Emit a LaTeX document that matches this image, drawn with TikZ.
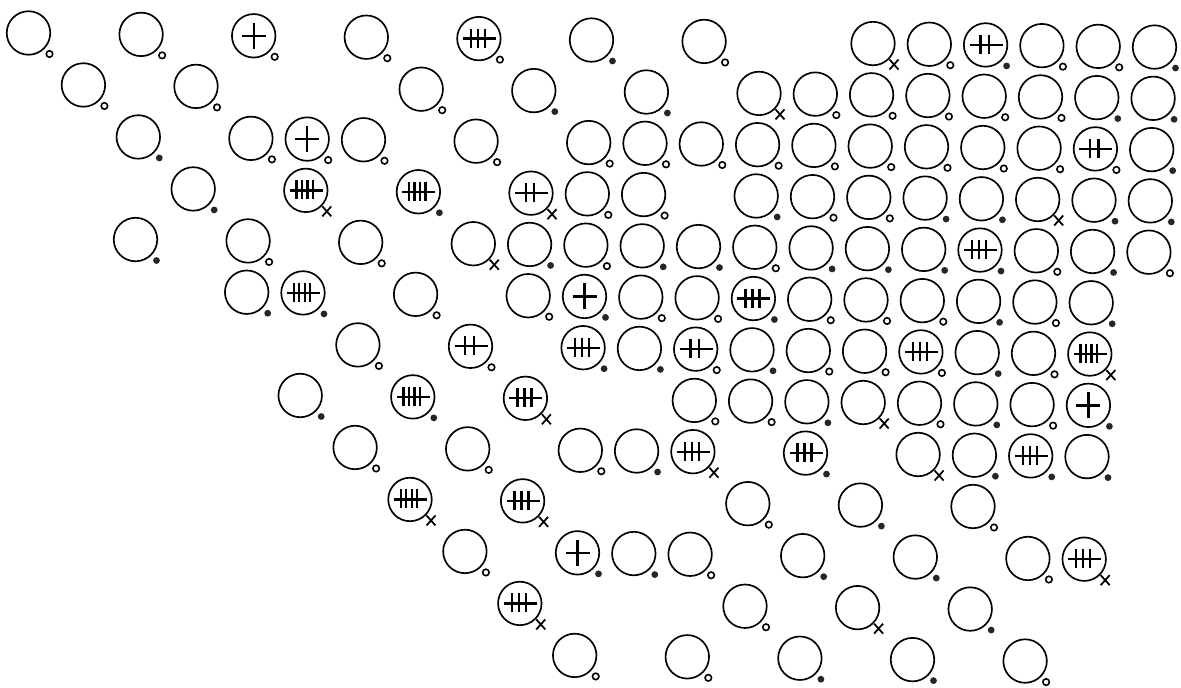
\documentclass[tikz,border=0pt]{standalone}
\tikzset{
  cell/.style={circle, draw=black, line width=0.95pt, minimum size=0.87cm, inner sep=0pt},
  ringm/.style={draw=black, line width=0.9pt},
  dotm/.style={fill=black!85},
  xm/.style={draw=black, line width=1pt},
  tallym/.style={draw=black, line width=1.35pt},
}
\begin{document}
\begin{tikzpicture}[x=0.02cm,y=-0.02cm]
\useasboundingbox (0,0) rectangle (1181,687);
\foreach \rw/\cl/\mk/\tl in {
 1/0/0/0, 1/2/0/0, 1/4/0/1, 1/6/0/0, 1/8/0/3, 1/10/1/0, 1/12/0/0, 1/15/2/0, 1/16/0/0, 1/17/1/2, 1/18/0/0, 1/19/0/0, 1/20/1/0,
 2/1/0/0, 2/3/0/0, 2/7/0/0, 2/9/1/0, 2/11/1/0, 2/13/2/0, 2/14/0/0, 2/15/0/0, 2/16/0/0, 2/17/0/0, 2/18/0/0, 2/19/1/0, 2/20/1/0,
 3/2/1/0, 3/4/0/0, 3/5/0/1, 3/6/0/0, 3/8/0/0, 3/10/0/0, 3/11/0/0, 3/12/0/0, 3/13/0/0, 3/14/0/0, 3/15/0/0, 3/16/0/0, 3/17/0/0, 3/18/0/0, 3/19/0/2, 3/20/1/0,
 4/3/1/0, 4/5/2/4, 4/7/1/4, 4/9/2/2, 4/10/0/0, 4/11/0/0, 4/13/1/0, 4/14/0/0, 4/15/0/0, 4/16/1/0, 4/17/1/0, 4/18/2/0, 4/19/1/0, 4/20/1/0,
 5/2/1/0, 5/4/0/0, 5/6/0/0, 5/8/2/0, 5/9/1/0, 5/10/0/0, 5/11/1/0, 5/12/1/0, 5/13/0/0, 5/14/1/0, 5/15/1/0, 5/16/1/0, 5/17/1/3, 5/18/0/0, 5/19/1/0, 5/20/0/0,
 6/4/1/0, 6/5/1/4, 6/7/0/0, 6/9/0/0, 6/10/1/1, 6/11/0/0, 6/12/0/0, 6/13/1/3, 6/14/0/0, 6/15/0/0, 6/16/0/0, 6/17/1/0, 6/18/0/0, 6/19/1/0,
 7/6/0/0, 7/8/0/2, 7/10/1/3, 7/11/1/0, 7/12/0/2, 7/13/1/0, 7/14/0/0, 7/15/0/0, 7/16/0/3, 7/17/1/0, 7/18/0/0, 7/19/2/4,
 8/5/1/0, 8/7/1/4, 8/9/2/3, 8/12/0/0, 8/13/0/0, 8/14/1/0, 8/15/2/0, 8/16/0/0, 8/17/1/0, 8/18/0/0, 8/19/1/1,
 9/6/0/0, 9/8/0/0, 9/10/0/0, 9/11/1/0, 9/12/2/3, 9/14/1/3, 9/16/2/0, 9/17/1/0, 9/18/1/3, 9/19/1/0,
 10/7/2/4, 10/9/2/3, 10/13/0/0, 10/15/1/0, 10/17/0/0,
 11/8/0/0, 11/10/1/1, 11/11/1/0, 11/12/0/0, 11/14/1/0, 11/16/1/0, 11/18/0/0, 11/19/2/3,
 12/9/2/3, 12/13/0/0, 12/15/2/0, 12/17/1/0,
 13/10/0/0, 13/12/0/0, 13/14/1/0, 13/16/1/0, 13/18/0/0}
{
  \pgfmathsetmacro\px{28.5+56.3*\cl-1.4*(\rw-1)}
  \pgfmathsetmacro\py{33+51.3*(\rw-1)+0.0125*(\px-30)}
  \node[cell] (n\rw-\cl) at (\px,\py) {};
  \coordinate (m\rw-\cl) at (\px+21,\py+21);
  \ifcase\mk\relax
    \draw[ringm] (m\rw-\cl) circle[radius=0.065cm];
  \or
    \fill[dotm] (m\rw-\cl) circle[radius=0.068cm];
  \or
    \draw[xm] (\px+16.5,\py+16) -- (\px+25.5,\py+26) (\px+25.5,\py+16) -- (\px+16.5,\py+26);
  \fi
  \ifnum\tl=1\relax
    \draw[tallym] (\px-12,\py) -- (\px+12,\py) (\px,\py-13) -- (\px,\py+13);
  \fi
  \ifnum\tl>1\relax
    \pgfmathsetmacro\sp{11.5-1.5*\tl}
    \draw[tallym] (\px-16,\py) -- (\px+17,\py);
    \foreach \k in {1,...,\tl}{
      \draw[tallym] ({\px-1+(\k-(\tl+1)/2)*\sp},\py-10) -- ++(0,19);
    }
  \fi
}
\end{tikzpicture}
\end{document}
